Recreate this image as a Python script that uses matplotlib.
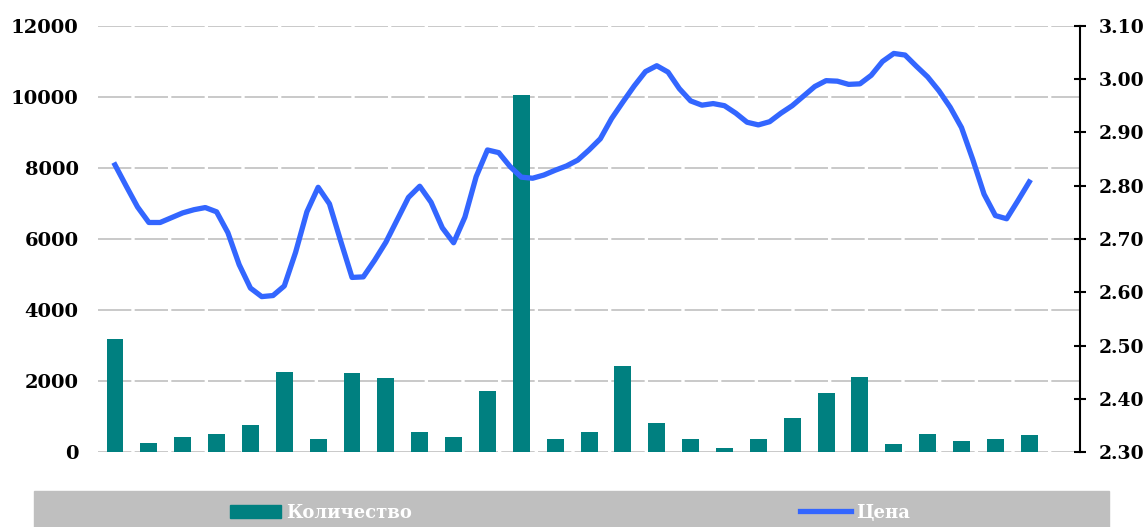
import numpy as np
import matplotlib
matplotlib.use("Agg")
import matplotlib.pyplot as plt
from matplotlib.patches import Rectangle, Patch
from matplotlib.lines import Line2D
from matplotlib.ticker import FormatStrFormatter

# volumes (bars), 28 periods + one empty slot at the end
volume = [3200, 270, 420, 520, 770, 2270, 370, 2220, 2080, 570,
          420, 1720, 10050, 370, 570, 2430, 820, 370, 120, 370,
          970, 1680, 2130, 230, 520, 320, 370, 480]

# price line, three readings per period
price = [2.839, 2.799, 2.760, 2.731, 2.731, 2.740, 2.749, 2.755, 2.759, 2.751,
         2.712, 2.652, 2.608, 2.592, 2.594, 2.612, 2.675, 2.751, 2.797, 2.766,
         2.696, 2.628, 2.629, 2.660, 2.694, 2.736, 2.778, 2.799, 2.769, 2.721,
         2.693, 2.741, 2.817, 2.867, 2.862, 2.836, 2.816, 2.814, 2.820, 2.829,
         2.837, 2.848, 2.867, 2.888, 2.926, 2.957, 2.987, 3.014, 3.025, 3.013,
         2.982, 2.959, 2.951, 2.954, 2.950, 2.936, 2.919, 2.914, 2.920, 2.936,
         2.950, 2.968, 2.986, 2.997, 2.996, 2.990, 2.991, 3.007, 3.033, 3.048,
         3.045, 3.024, 3.004, 2.978, 2.947, 2.909, 2.849, 2.784, 2.744, 2.738,
         2.772, 2.807]

left_ticks = [0, 2000, 4000, 6000, 8000, 10000, 12000]
right_ticks = [2.30, 2.40, 2.50, 2.60, 2.70, 2.80, 2.90, 3.00, 3.10]

teal = "#008080"
blue = "#3366FF"
font = "DejaVu Serif"

fig = plt.figure(figsize=(11.47, 5.27), dpi=100)
ax = fig.add_axes([0.0855, 0.1417, 0.8561, 0.8095])

x = np.arange(len(volume))
ax.bar(x, volume, width=0.5, color=teal, zorder=2)
ax.set_xlim(-0.5, len(volume) + 0.5)
ax.set_ylim(0, 12000)
ax.set_yticks(left_ticks)
ax.set_xticks([])
ax.yaxis.grid(True, color="#C0C0C0", lw=1.2, linestyle=(0, (20, 2)), zorder=0)
ax.set_axisbelow(True)
for s in ax.spines.values():
    s.set_visible(False)
ax.tick_params(axis="y", length=0, pad=14)
for lab in ax.get_yticklabels():
    lab.set_fontfamily(font)
    lab.set_fontweight("bold")
    lab.set_fontsize(14)

ax2 = ax.twinx()
xp = np.linspace(0, len(volume) - 1, len(price))
ax2.plot(xp, price, color=blue, lw=3.8, solid_joinstyle="round", zorder=3)
ax2.set_ylim(2.30, 3.10)
ax2.set_yticks(right_ticks)
ax2.yaxis.set_major_formatter(FormatStrFormatter("%.2f"))
for k, s in ax2.spines.items():
    s.set_visible(k == "right")
ax2.spines["right"].set_linewidth(1.5)
ax2.tick_params(axis="y", direction="inout", length=9, width=1.5, pad=9)
for lab in ax2.get_yticklabels():
    lab.set_fontfamily(font)
    lab.set_fontweight("bold")
    lab.set_fontsize(13.5)

# grey legend band
fig.patches.append(Rectangle((0.0296, 0), 0.9374, 0.0689, transform=fig.transFigure,
                             color="#BFBFBF", zorder=0))
handles = [Patch(color=teal), Line2D([], [], color=blue, lw=3.8)]
leg = fig.legend(handles, ["Количество", "Цена"], loc="center", bbox_to_anchor=(0.497, 0.027),
                 ncol=2, frameon=False, columnspacing=21.5, handlelength=2.8,
                 handletextpad=0.3, prop={"family": font, "weight": "bold", "size": 13})
for t in leg.get_texts():
    t.set_color("white")

fig.savefig("out.png", dpi=100)
